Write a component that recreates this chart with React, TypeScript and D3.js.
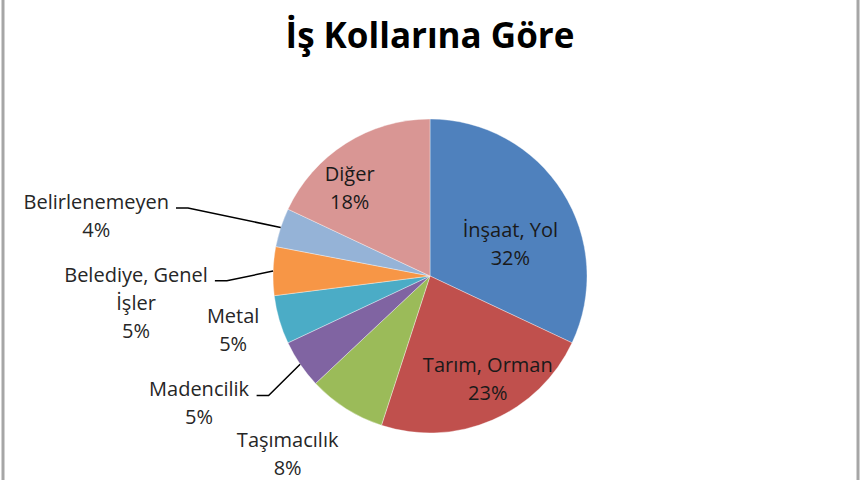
import { useEffect, useRef } from 'react'
import * as d3 from 'd3'

// Share of accidents by sector (percent)
const categories = [
  'İnşaat, Yol',
  'Tarım, Orman',
  'Taşımacılık',
  'Madencilik',
  'Metal',
  'Belediye, Genel\nİşler',
  'Belirlenemeyen',
  'Diğer',
]
const values = [32, 23, 8, 5, 5, 5, 4, 18]
const colors = ['#4F81BD', '#C0504D', '#9BBB59', '#8064A2', '#4BACC6', '#F79646', '#95B3D7', '#D99694']
const title = 'İş Kollarına Göre'

// label placement: radius factor, angle shift (deg) from slice middle, leader line or not
const labelLayout = [
  { f: 0.55, da: 11, leader: false },
  { f: 0.75, da: -6, leader: false },
  { f: 1.45, da: 6.3, leader: false },
  { f: 1.68, da: 5.3, leader: true },
  { f: 1.3, da: 0.9, leader: false },
  { f: 1.88, da: -7, leader: true },
  { f: 2.16, da: -7.8, leader: true },
  { f: 0.76, da: -9.9, leader: false },
]

export default function App() {
  const ref = useRef<SVGSVGElement>(null)

  useEffect(() => {
    const svg = d3.select(ref.current)
    svg.selectAll('*').remove()

    const width = 860
    const height = 480
    const cx = 430
    const cy = 276
    const radius = 157
    const lineH = 28
    const capH = 14

    svg.append('rect')
      .attr('width', width)
      .attr('height', height)
      .attr('fill', '#ffffff')

    // frame (only the sides show in the picture)
    svg.append('rect')
      .attr('x', 3)
      .attr('y', -10)
      .attr('width', 855)
      .attr('height', height + 20)
      .attr('fill', 'none')
      .attr('stroke', '#a6a6a6')
      .attr('stroke-width', 3)

    svg.append('text')
      .attr('x', cx)
      .attr('y', 48)
      .attr('text-anchor', 'middle')
      .attr('font-family', '"Open Sans", sans-serif')
      .attr('font-weight', 700)
      .attr('font-size', 35)
      .attr('fill', '#000')
      .text(title)

    const total = d3.sum(values)
    const pct = d3.format('.0%')

    const pie = d3.pie<number>().sort(null).value(d => d)
    const arcs = pie(values)
    const arc = d3.arc<d3.PieArcDatum<number>>().innerRadius(0).outerRadius(radius)

    const g = svg.append('g').attr('transform', `translate(${cx},${cy})`)

    g.selectAll('path')
      .data(arcs)
      .enter().append('path')
      .attr('d', arc)
      .attr('fill', (_, i) => colors[i])
      .attr('stroke', '#ffffff')
      .attr('stroke-width', 0.6)
      .attr('stroke-opacity', 0.6)

    arcs.forEach((a, i) => {
      const lay = labelLayout[i]
      const mid = (a.startAngle + a.endAngle) / 2
      const ang = mid + (lay.da * Math.PI) / 180
      const x = cx + radius * lay.f * Math.sin(ang)
      const yc = cy - radius * lay.f * Math.cos(ang)
      const lines = [...categories[i].split('\n'), pct(values[i] / total)]
      const blockH = capH + (lines.length - 1) * lineH
      const y0 = yc - blockH / 2 + capH
      const inside = lay.f < 1

      const text = svg.append('text')
        .attr('text-anchor', 'middle')
        .attr('font-family', '"Open Sans", sans-serif')
        .attr('font-size', 20)
        .attr('fill', inside ? '#1a1a1a' : '#262626')

      lines.forEach((ln, j) => {
        text.append('tspan')
          .attr('x', x)
          .attr('y', y0 + j * lineH)
          .text(ln)
      })

      if (lay.leader) {
        const first = text.select<SVGTSpanElement>('tspan').node()
        const box = first ? first.getBBox() : { x: x, width: 0 }
        const sx = box.x + box.width + 7
        const sy = y0 - 1
        const ex = cx + radius * Math.sin(mid)
        const ey = cy - radius * Math.cos(mid)
        svg.append('path')
          .attr('d', d3.line()([[sx, sy], [sx + 12, sy], [ex, ey]]))
          .attr('fill', 'none')
          .attr('stroke', '#000')
          .attr('stroke-width', 1.5)
      }
    })
  }, [])

  return (
    <div style={{ position: 'fixed', left: 0, top: 0 }}>
      <svg ref={ref} width={860} height={480} style={{ display: 'block' }} />
    </div>
  )
}
